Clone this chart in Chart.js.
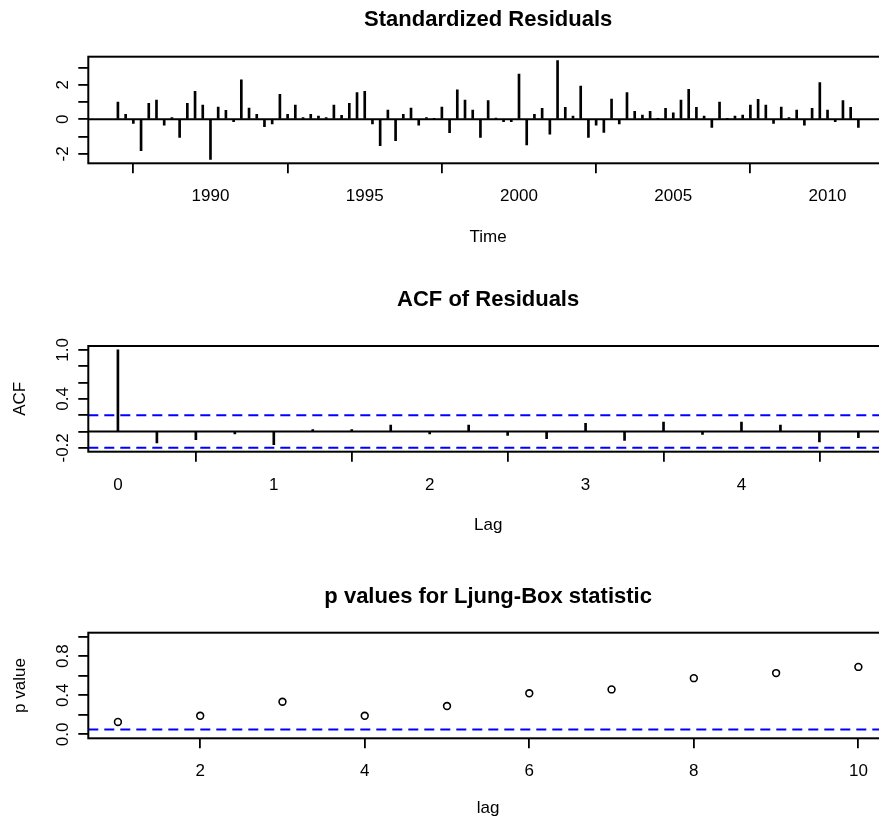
<!DOCTYPE html>
<html>
<head>
<meta charset="utf-8">
<title>tsdiag</title>
<script src="https://cdn.jsdelivr.net/npm/chart.js@4.4.1/dist/chart.umd.min.js"></script>
<style>
    html, body { margin: 0; padding: 0; background: #fff; }
    #wrap { position: relative; width: 879px; height: 820px; overflow: hidden; }
    canvas { position: absolute; left: 0; }
</style>
</head>
<body>
<div id="wrap">
    <canvas id="residChart" width="900" height="270" style="top:0px"></canvas>
    <canvas id="acfChart" width="900" height="290" style="top:270px"></canvas>
    <canvas id="lbChart" width="900" height="260" style="top:560px"></canvas>
</div>
<script>
// standardized residuals, quarterly series starting 1987 Q1
const residStart = 1987;
const residFreq = 4;
const residValues = [
    1.0, 0.29, -0.23, -1.81,
    0.92, 1.12, -0.33, 0.1,
    -1.04, 0.92, 1.62, 0.83,
    -2.31, 0.71, 0.52, -0.13,
    2.29, 0.65, 0.29, -0.42,
    -0.27, 1.44, 0.29, 0.83,
    0.1, 0.29, 0.19, 0.1,
    0.83, 0.23, 0.92, 1.54,
    1.62, -0.27, -1.52, 0.54,
    -1.23, 0.29, 0.65, -0.33,
    0.1, 0.02, 0.71, -0.77,
    1.71, 1.12, 0.54, -1.04,
    1.08, 0.08, -0.13, -0.13,
    2.62, -1.48, 0.29, 0.63,
    -0.85, 3.39, 0.69, 0.19,
    1.92, -1.04, -0.33, -0.75,
    1.17, -0.27, 1.54, 0.46,
    0.25, 0.46, 0.02, 0.63,
    0.38, 1.12, 1.73, 0.69,
    0.19, -0.46, 1.0, 0.02,
    0.19, 0.25, 0.83, 1.15,
    0.83, -0.23, 0.71, 0.1,
    0.54, -0.33, 0.63, 2.12,
    0.54, -0.13, 1.08, 0.69,
    -0.46
];
const residRange = [-2.54, 3.62];
const timeRange = [1986.04, 2011.96];
const residTicks = [-2, -1, 0, 1, 2, 3];
const residTickLabels = [-2, 0, 2];
const timeTicks = [1990, 1995, 2000, 2005, 2010];

// ACF of residuals (lag in years)
const acfLags = [0, 0.25, 0.5, 0.75, 1, 1.25, 1.5, 1.75, 2, 2.25, 2.5, 2.75, 3, 3.25, 3.5, 3.75, 4, 4.25, 4.5, 4.75];
const acfValues = [1.0, -0.14, -0.10, -0.03, -0.16, 0.024, 0.024, 0.08, -0.03, 0.08, -0.048, -0.088, 0.10, -0.108, 0.116, -0.036, 0.116, 0.08, -0.128, -0.076];
const acfBound = 0.199;
const acfRange = [-0.247, 1.048];
const lagRange = [-0.19, 4.94];
const acfTicks = [-0.2, 0, 0.2, 0.4, 0.6, 0.8, 1.0];
const acfTickLabels = [-0.2, 0.4, 1.0];
const acfLagTicks = [0, 1, 2, 3, 4];

// Ljung-Box p values
const lbLags = [1, 2, 3, 4, 5, 6, 7, 8, 9, 10];
const lbPValues = [0.127, 0.19, 0.334, 0.19, 0.29, 0.42, 0.46, 0.575, 0.627, 0.69];
const lbLevel = 0.05;
const lbRange = [-0.04, 1.04];
const lbLagRange = [0.64, 10.36];
const lbTicks = [0, 0.2, 0.4, 0.6, 0.8, 1.0];
const lbTickLabels = [0, 0.4, 0.8];
const lbLagTicks = [2, 4, 6, 8, 10];

Chart.defaults.font.family = "'Liberation Sans', Arial, sans-serif";
Chart.defaults.color = '#000';
Chart.defaults.animation = false;

const framePlugin = {
    id: 'frame',
    afterDatasetsDraw(chart) {
        const a = chart.chartArea;
        const ctx = chart.ctx;
        ctx.save();
        ctx.strokeStyle = '#000';
        ctx.lineWidth = 2;
        ctx.strokeRect(a.left, a.top, a.right - a.left, a.bottom - a.top);
        ctx.restore();
    }
};

const tickGrid = { drawOnChartArea: false, color: '#000', lineWidth: 1.8, tickLength: 10 };

function xAxis(range, ticks, title, pad, titlePad, height) {
    return {
        type: 'linear',
        min: range[0],
        max: range[1],
        offset: false,
        afterBuildTicks: s => { s.ticks = ticks.map(v => ({ value: v })); },
        afterFit: s => { s.height = height; },
        ticks: { padding: pad, font: { size: 17 }, color: '#000', autoSkip: false, maxRotation: 0, callback: v => String(v) },
        grid: tickGrid,
        border: { display: false },
        title: { display: true, text: title, font: { size: 17 }, color: '#000', padding: { top: 0, bottom: titlePad } }
    };
}

function yAxis(range, ticks, labels, pad, title, digits) {
    return {
        type: 'linear',
        min: range[0],
        max: range[1],
        afterBuildTicks: s => { s.ticks = ticks.map(v => ({ value: v })); },
        afterFit: s => { s.width = 88.3; },
        ticks: {
            padding: pad, crossAlign: 'center', minRotation: 90, maxRotation: 90, autoSkip: false,
            font: { size: 17 }, color: '#000',
            callback: v => labels.some(l => Math.abs(l - v) < 1e-9) ? v.toFixed(digits) : ''
        },
        grid: tickGrid,
        border: { display: false },
        title: { display: title !== '', text: title, font: { size: 17 }, color: '#000', padding: { top: 9.8, bottom: 0 } }
    };
}

function titleOpts(text, top, bottom) {
    return {
        display: true, text: text, fullSize: false,
        font: { size: 22, weight: 'bold' }, color: '#000',
        padding: { top: top, bottom: bottom }
    };
}

const baseOpts = {
    responsive: false,
    devicePixelRatio: 1,
    layout: { padding: { left: 0, right: 12, top: 0, bottom: 0 } }
};

new Chart(document.getElementById('residChart').getContext('2d'), {
    type: 'bar',
    data: {
        datasets: [{
            type: 'bar',
            data: residValues.map((v, i) => ({ x: residStart + i / residFreq, y: v })),
            backgroundColor: '#000',
            barThickness: 2
        }, {
            type: 'line',
            data: [{ x: timeRange[0], y: 0 }, { x: timeRange[1], y: 0 }],
            borderColor: '#000',
            borderWidth: 2,
            pointRadius: 0
        }]
    },
    options: Object.assign({}, baseOpts, {
        plugins: {
            legend: { display: false },
            tooltip: { enabled: false },
            title: titleOpts('Standardized Residuals', 6.8, 23.5)
        },
        scales: {
            x: xAxis(timeRange, timeTicks, 'Time', 12.5, 22.8, 106.7),
            y: yAxis(residRange, residTicks, residTickLabels, 7.7, '', 0)
        }
    }),
    plugins: [framePlugin]
});

new Chart(document.getElementById('acfChart').getContext('2d'), {
    type: 'bar',
    data: {
        datasets: [{
            type: 'bar',
            data: acfLags.map((l, i) => ({ x: l, y: acfValues[i] })),
            backgroundColor: '#000',
            barThickness: 2
        }, {
            type: 'line',
            data: [{ x: lagRange[0], y: 0 }, { x: lagRange[1], y: 0 }],
            borderColor: '#000',
            borderWidth: 2,
            pointRadius: 0
        }, {
            type: 'line',
            data: [{ x: lagRange[0], y: acfBound }, { x: lagRange[1], y: acfBound }],
            borderColor: '#0000ff',
            borderWidth: 2,
            borderDash: [10, 6],
            pointRadius: 0
        }, {
            type: 'line',
            data: [{ x: lagRange[0], y: -acfBound }, { x: lagRange[1], y: -acfBound }],
            borderColor: '#0000ff',
            borderWidth: 2,
            borderDash: [10, 6],
            pointRadius: 0
        }]
    },
    options: Object.assign({}, baseOpts, {
        plugins: {
            legend: { display: false },
            tooltip: { enabled: false },
            title: titleOpts('ACF of Residuals', 16.8, 32.8)
        },
        scales: {
            x: xAxis(lagRange, acfLagTicks, 'Lag', 13.1, 24.8, 108.3),
            y: yAxis(acfRange, acfTicks, acfTickLabels, 0.7, 'ACF', 1)
        }
    }),
    plugins: [framePlugin]
});

new Chart(document.getElementById('lbChart').getContext('2d'), {
    type: 'scatter',
    data: {
        datasets: [{
            type: 'scatter',
            data: lbLags.map((l, i) => ({ x: l, y: lbPValues[i] })),
            borderColor: '#000',
            backgroundColor: 'rgba(0,0,0,0)',
            borderWidth: 1.6,
            pointRadius: 3.4
        }, {
            type: 'line',
            data: [{ x: lbLagRange[0], y: lbLevel }, { x: lbLagRange[1], y: lbLevel }],
            borderColor: '#0000ff',
            borderWidth: 2,
            borderDash: [10, 6],
            pointRadius: 0
        }]
    },
    options: Object.assign({}, baseOpts, {
        plugins: {
            legend: { display: false },
            tooltip: { enabled: false },
            title: titleOpts('p values for Ljung-Box statistic', 23.8, 22.5)
        },
        scales: {
            x: xAxis(lbLagRange, lbLagTicks, 'lag', 13, 1.8, 81.7),
            y: yAxis(lbRange, lbTicks, lbTickLabels, 3.5, 'p value', 1)
        }
    }),
    plugins: [framePlugin]
});
</script>
</body>
</html>
